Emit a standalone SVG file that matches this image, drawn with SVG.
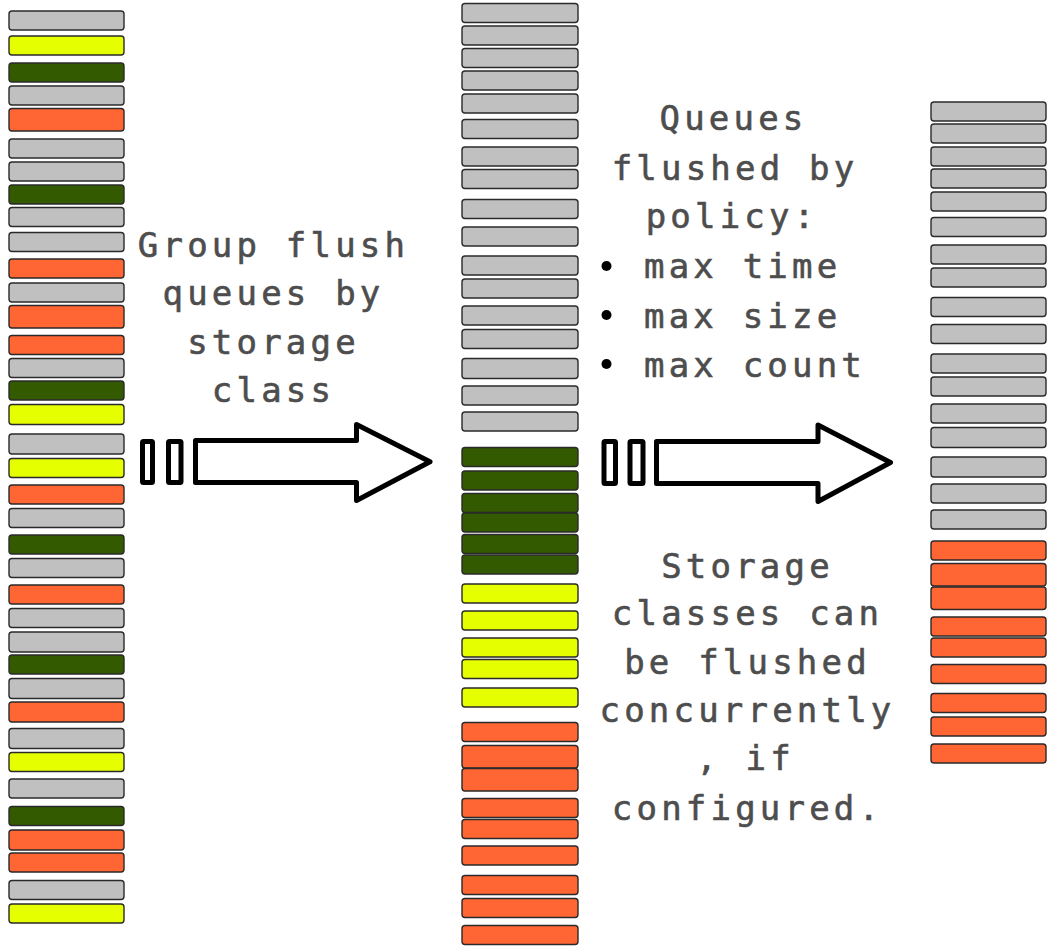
<svg xmlns="http://www.w3.org/2000/svg" width="1048" height="947" viewBox="0 0 1048 947">
<style>
rect.b{stroke:#2a2a2a;stroke-width:1.4}
.g{fill:#C0C0C0}.y{fill:#E6FF00}.d{fill:#345A00}.o{fill:#FF6633}
.t{font-family:"DejaVu Sans Mono","Liberation Mono",monospace;font-size:34px;letter-spacing:4.2px;fill:#4D4D4D;stroke:#4D4D4D;stroke-width:0.6}
.ar{fill:#fff;stroke:#000;stroke-width:5;stroke-linejoin:round}
.bul{fill:#000}
</style>
<rect width="1048" height="947" fill="#fff"/>
<g id="col-left">
<rect class="b g" x="9" y="11" width="115" height="19" rx="3"/>
<rect class="b y" x="9" y="36" width="115" height="19" rx="3"/>
<rect class="b d" x="9" y="63" width="115" height="19" rx="3"/>
<rect class="b g" x="9" y="86" width="115" height="19" rx="3"/>
<rect class="b o" x="9" y="108.5" width="115" height="22.5" rx="3"/>
<rect class="b g" x="9" y="139" width="115" height="19" rx="3"/>
<rect class="b g" x="9" y="162" width="115" height="19" rx="3"/>
<rect class="b d" x="9" y="185" width="115" height="19" rx="3"/>
<rect class="b g" x="9" y="207.5" width="115" height="19" rx="3"/>
<rect class="b g" x="9" y="232.5" width="115" height="19" rx="3"/>
<rect class="b o" x="9" y="259" width="115" height="19" rx="3"/>
<rect class="b g" x="9" y="283" width="115" height="19" rx="3"/>
<rect class="b o" x="9" y="305.5" width="115" height="22.5" rx="3"/>
<rect class="b o" x="9" y="335.5" width="115" height="19" rx="3"/>
<rect class="b g" x="9" y="358.5" width="115" height="19" rx="3"/>
<rect class="b d" x="9" y="381" width="115" height="19" rx="3"/>
<rect class="b y" x="9" y="404.5" width="115" height="20" rx="3"/>
<rect class="b g" x="9" y="434" width="115" height="20" rx="3"/>
<rect class="b y" x="9" y="458.5" width="115" height="19" rx="3"/>
<rect class="b o" x="9" y="485" width="115" height="19" rx="3"/>
<rect class="b g" x="9" y="508.5" width="115" height="19" rx="3"/>
<rect class="b d" x="9" y="535" width="115" height="19" rx="3"/>
<rect class="b g" x="9" y="558.5" width="115" height="19" rx="3"/>
<rect class="b o" x="9" y="585" width="115" height="19" rx="3"/>
<rect class="b g" x="9" y="608.5" width="115" height="19" rx="3"/>
<rect class="b g" x="9" y="632" width="115" height="20" rx="3"/>
<rect class="b d" x="9" y="655" width="115" height="19" rx="3"/>
<rect class="b g" x="9" y="678.5" width="115" height="20" rx="3"/>
<rect class="b o" x="9" y="702" width="115" height="20" rx="3"/>
<rect class="b g" x="9" y="728.5" width="115" height="20" rx="3"/>
<rect class="b y" x="9" y="752.5" width="115" height="19" rx="3"/>
<rect class="b g" x="9" y="779" width="115" height="19" rx="3"/>
<rect class="b d" x="9" y="806.5" width="115" height="19" rx="3"/>
<rect class="b o" x="9" y="830" width="115" height="20" rx="3"/>
<rect class="b o" x="9" y="853" width="115" height="19" rx="3"/>
<rect class="b g" x="9" y="880.5" width="115" height="19" rx="3"/>
<rect class="b y" x="9" y="904" width="115" height="19" rx="3"/>
</g>
<g id="col-middle">
<rect class="b g" x="462" y="3.5" width="116" height="19" rx="3"/>
<rect class="b g" x="462" y="26" width="116" height="19" rx="3"/>
<rect class="b g" x="462" y="48.5" width="116" height="19" rx="3"/>
<rect class="b g" x="462" y="71" width="116" height="19" rx="3"/>
<rect class="b g" x="462" y="94" width="116" height="19" rx="3"/>
<rect class="b g" x="462" y="119.5" width="116" height="19" rx="3"/>
<rect class="b g" x="462" y="147" width="116" height="19" rx="3"/>
<rect class="b g" x="462" y="169.5" width="116" height="19" rx="3"/>
<rect class="b g" x="462" y="199.5" width="116" height="19" rx="3"/>
<rect class="b g" x="462" y="227" width="116" height="19" rx="3"/>
<rect class="b g" x="462" y="256" width="116" height="19" rx="3"/>
<rect class="b g" x="462" y="279" width="116" height="19" rx="3"/>
<rect class="b g" x="462" y="306" width="116" height="19" rx="3"/>
<rect class="b g" x="462" y="329.5" width="116" height="19" rx="3"/>
<rect class="b g" x="462" y="358.5" width="116" height="20" rx="3"/>
<rect class="b g" x="462" y="386" width="116" height="19" rx="3"/>
<rect class="b g" x="462" y="412" width="116" height="19" rx="3"/>
<rect class="b d" x="462" y="447.5" width="116" height="19" rx="3"/>
<rect class="b d" x="462" y="471" width="116" height="19" rx="3"/>
<rect class="b d" x="462" y="493.5" width="116" height="19" rx="3"/>
<rect class="b d" x="462" y="513" width="116" height="19" rx="3"/>
<rect class="b d" x="462" y="534.5" width="116" height="19" rx="3"/>
<rect class="b d" x="462" y="555" width="116" height="19" rx="3"/>
<rect class="b y" x="462" y="584" width="116" height="19" rx="3"/>
<rect class="b y" x="462" y="611" width="116" height="19" rx="3"/>
<rect class="b y" x="462" y="638" width="116" height="19" rx="3"/>
<rect class="b y" x="462" y="659.5" width="116" height="19" rx="3"/>
<rect class="b y" x="462" y="688" width="116" height="19" rx="3"/>
<rect class="b o" x="462" y="722.5" width="116" height="19" rx="3"/>
<rect class="b o" x="462" y="745.5" width="116" height="22.5" rx="3"/>
<rect class="b o" x="462" y="768.5" width="116" height="22.5" rx="3"/>
<rect class="b o" x="462" y="798.5" width="116" height="19" rx="3"/>
<rect class="b o" x="462" y="819.5" width="116" height="19" rx="3"/>
<rect class="b o" x="462" y="846" width="116" height="19" rx="3"/>
<rect class="b o" x="462" y="875.5" width="116" height="19" rx="3"/>
<rect class="b o" x="462" y="898.5" width="116" height="19" rx="3"/>
<rect class="b o" x="462" y="925.5" width="116" height="19" rx="3"/>
</g>
<g id="col-right">
<rect class="b g" x="931" y="102" width="115" height="19" rx="3"/>
<rect class="b g" x="931" y="124" width="115" height="19" rx="3"/>
<rect class="b g" x="931" y="147" width="115" height="19" rx="3"/>
<rect class="b g" x="931" y="169" width="115" height="19" rx="3"/>
<rect class="b g" x="931" y="192" width="115" height="19" rx="3"/>
<rect class="b g" x="931" y="217.5" width="115" height="19" rx="3"/>
<rect class="b g" x="931" y="245" width="115" height="19" rx="3"/>
<rect class="b g" x="931" y="268" width="115" height="19" rx="3"/>
<rect class="b g" x="931" y="297.5" width="115" height="19" rx="3"/>
<rect class="b g" x="931" y="324.5" width="115" height="19" rx="3"/>
<rect class="b g" x="931" y="354" width="115" height="19" rx="3"/>
<rect class="b g" x="931" y="377" width="115" height="19" rx="3"/>
<rect class="b g" x="931" y="404" width="115" height="19" rx="3"/>
<rect class="b g" x="931" y="427.5" width="115" height="20" rx="3"/>
<rect class="b g" x="931" y="457" width="115" height="20" rx="3"/>
<rect class="b g" x="931" y="484" width="115" height="19" rx="3"/>
<rect class="b g" x="931" y="510" width="115" height="19" rx="3"/>
<rect class="b o" x="931" y="541" width="115" height="19" rx="3"/>
<rect class="b o" x="931" y="563.5" width="115" height="22.5" rx="3"/>
<rect class="b o" x="931" y="587" width="115" height="22.5" rx="3"/>
<rect class="b o" x="931" y="617" width="115" height="19" rx="3"/>
<rect class="b o" x="931" y="638" width="115" height="19" rx="3"/>
<rect class="b o" x="931" y="664.5" width="115" height="19" rx="3"/>
<rect class="b o" x="931" y="693.5" width="115" height="19" rx="3"/>
<rect class="b o" x="931" y="717" width="115" height="19" rx="3"/>
<rect class="b o" x="931" y="744" width="115" height="19" rx="3"/>
</g>
<g id="connectors">
<g id="arrow-1">
<rect class="ar" x="142.5" y="441.5" width="10" height="41" rx="1"/>
<rect class="ar" x="168.5" y="441.5" width="12.5" height="41" rx="1"/>
<path class="ar" d="M195.5,440.5 L356.5,440.5 L356.5,424.5 L430,461.8 L356.5,500.5 L356.5,482.5 L195.5,482.5 Z"/>
</g>
<g id="arrow-2">
<rect class="ar" x="604" y="441.5" width="11.5" height="42" rx="1"/>
<rect class="ar" x="630" y="441.5" width="13" height="42" rx="1"/>
<path class="ar" d="M656.5,441.5 L818,441.5 L818,425 L890.5,462.5 L818,501.5 L818,483.5 L656.5,483.5 Z"/>
</g>
</g>
<g id="label-group">
<text class="t" text-anchor="middle" x="273.5" y="257">Group flush</text>
<text class="t" text-anchor="middle" x="273.5" y="305">queues by</text>
<text class="t" text-anchor="middle" x="273.5" y="353.5">storage</text>
<text class="t" text-anchor="middle" x="273.5" y="401.7">class</text>
</g>
<g id="label-policy">
<text class="t" text-anchor="middle" x="733.5" y="130">Queues</text>
<text class="t" text-anchor="middle" x="735" y="180">flushed by</text>
<text class="t" text-anchor="middle" x="732" y="228.3">policy:</text>
<circle class="bul" cx="606.5" cy="266" r="5"/>
<circle class="bul" cx="606.5" cy="315" r="5"/>
<circle class="bul" cx="606.5" cy="364" r="5"/>
<text class="t" x="644" y="278.3">max time</text>
<text class="t" x="644" y="328.3">max size</text>
<text class="t" x="644" y="376.7">max count</text>
</g>
<g id="label-concurrent">
<text class="t" text-anchor="middle" x="747.5" y="578">Storage</text>
<text class="t" text-anchor="middle" x="747.5" y="625">classes can</text>
<text class="t" text-anchor="middle" x="747.5" y="674">be flushed</text>
<text class="t" text-anchor="middle" x="747.5" y="722">concurrently</text>
<text class="t" text-anchor="middle" x="745.5" y="770">, if</text>
<text class="t" text-anchor="middle" x="747.5" y="820">configured.</text>
</g>
</svg>
